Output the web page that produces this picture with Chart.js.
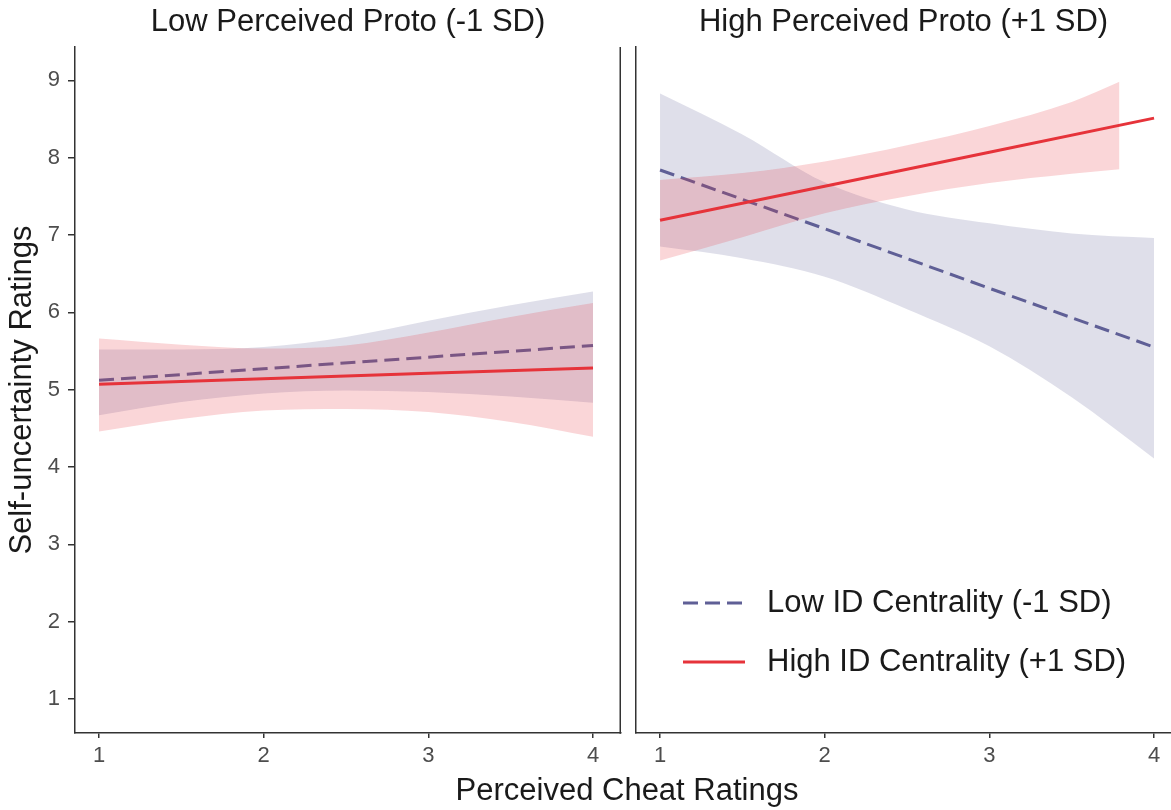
<!DOCTYPE html>
<html>
<head>
<meta charset="utf-8">
<title>Self-uncertainty by perceived cheat ratings</title>
<script src="https://cdn.jsdelivr.net/npm/chart.js@4.4.0/dist/chart.umd.min.js"></script>
<style>
  html, body { margin: 0; padding: 0; background: #fff; overflow: hidden; }
  #wrap { position: relative; width: 1171px; height: 810px; }
  canvas { position: absolute; top: 0; }
  #left { left: 0; }
  #right { left: 622px; }
  #xlabel {
    position: absolute; left: 627px; top: 771px; transform: translateX(-50%);
    white-space: nowrap; font: 31px "Liberation Sans", Arial, sans-serif;
    line-height: 37px; color: #1a1a1a;
  }
</style>
</head>
<body>
<div id="wrap">
  <canvas id="left" width="622" height="810"></canvas>
  <canvas id="right" width="549" height="810"></canvas>
  <div id="xlabel">Perceived Cheat Ratings</div>
</div>
<script>
// facet titles, series names, ticks
const panelTitles = ['Low Perceived Proto (-1 SD)', 'High Perceived Proto (+1 SD)'];
const seriesNames = ['Low ID Centrality (-1 SD)', 'High ID Centrality (+1 SD)'];
const xTicks = [1, 2, 3, 4];
const yTicks = [1, 2, 3, 4, 5, 6, 7, 8, 9];

// x positions of the fitted lines and the confidence bands
const lineX = [1, 2, 3, 4];
const bandX = [1, 1.5, 2, 2.5, 3, 3.5, 4];
const bandXHighHigh = [1, 1.5, 2, 2.5, 3, 3.5, 3.79];

// Low perceived proto panel
const lowProtoLowLine = [5.12, 5.27, 5.42, 5.57];
const lowProtoLowUpper = [5.52, 5.52, 5.55, 5.68, 5.89, 6.09, 6.27];
const lowProtoLowLower = [4.67, 4.84, 4.95, 4.99, 4.97, 4.91, 4.83];
const lowProtoHighLine = [5.07, 5.14, 5.21, 5.28];
const lowProtoHighUpper = [5.66, 5.58, 5.53, 5.57, 5.74, 5.94, 6.12];
const lowProtoHighLower = [4.46, 4.62, 4.73, 4.75, 4.71, 4.58, 4.39];

// High perceived proto panel
const highProtoLowLine = [7.84, 7.08, 6.31, 5.55];
const highProtoLowUpper = [8.83, 8.30, 7.68, 7.33, 7.15, 7.02, 6.96];
const highProtoLowLower = [6.85, 6.70, 6.46, 6.04, 5.56, 4.90, 4.11];
const highProtoHighLine = [7.19, 7.63, 8.07, 8.51];
const highProtoHighUpper = [7.71, 7.80, 7.95, 8.16, 8.41, 8.72, 8.98];
const highProtoHighLower = [6.67, 6.97, 7.28, 7.50, 7.67, 7.79, 7.85];

const FONT = '"Liberation Sans", Arial, sans-serif';
const PURPLE = '#5f5f96';
const PURPLE_FILL = 'rgba(95, 95, 150, 0.2)';
const RED = '#e6333a';
const RED_FILL = 'rgba(230, 51, 58, 0.2)';
const DASH = [15, 7];
const AXIS = '#333333';
const TICK = '#4d4d4d';
const TEXT = '#1a1a1a';

const pts = (xs, ys) => xs.map((x, i) => ({ x: x, y: ys[i] }));

function panelDatasets(p) {
  const band = { borderWidth: 0, pointRadius: 0, cubicInterpolationMode: 'monotone' };
  return [
    { data: pts(lineX, p.highLine), borderColor: RED, borderWidth: 3, pointRadius: 0, order: 0 },
    Object.assign({ data: pts(p.highBandX, p.highUpper), backgroundColor: RED_FILL, fill: '+1', order: 1 }, band),
    Object.assign({ data: pts(p.highBandX, p.highLower), fill: false, order: 1 }, band),
    { data: pts(lineX, p.lowLine), borderColor: PURPLE, borderWidth: 3, borderDash: DASH, pointRadius: 0, order: 2 },
    Object.assign({ data: pts(bandX, p.lowUpper), backgroundColor: PURPLE_FILL, fill: '+1', order: 3 }, band),
    Object.assign({ data: pts(bandX, p.lowLower), fill: false, order: 3 }, band)
  ];
}

// closes the box on the right side of the left facet
const rightFrame = {
  id: 'rightFrame',
  afterDraw(chart, args, opts) {
    if (!opts.show) return;
    const { ctx, chartArea } = chart;
    ctx.save();
    ctx.strokeStyle = AXIS;
    ctx.lineWidth = 1.5;
    ctx.beginPath();
    ctx.moveTo(chartArea.right - 0.75, chartArea.top);
    ctx.lineTo(chartArea.right - 0.75, chartArea.bottom + 0.75);
    ctx.stroke();
    ctx.restore();
  }
};

// legend drawn inside the plot area, bottom right
const insideLegend = {
  id: 'insideLegend',
  afterDatasetsDraw(chart, args, opts) {
    if (!opts.show) return;
    const { ctx, chartArea } = chart;
    const entries = [
      { name: seriesNames[0], color: PURPLE, dash: DASH },
      { name: seriesNames[1], color: RED, dash: [] }
    ];
    ctx.save();
    entries.forEach((e, i) => {
      const y = chartArea.bottom - opts.rows[i];
      const x0 = chartArea.left + opts.sampleLeft;
      ctx.strokeStyle = e.color;
      ctx.lineWidth = 3;
      ctx.setLineDash(e.dash);
      ctx.beginPath();
      ctx.moveTo(x0, y);
      ctx.lineTo(x0 + opts.sampleLength, y);
      ctx.stroke();
      ctx.setLineDash([]);
      ctx.fillStyle = TEXT;
      ctx.font = '31px ' + FONT;
      ctx.textBaseline = 'middle';
      ctx.textAlign = 'left';
      ctx.fillText(e.name, chartArea.left + opts.textLeft, y);
    });
    ctx.restore();
  }
};

function xScale(max) {
  return {
    type: 'linear', min: 0.854, max: max,
    afterBuildTicks: s => { s.ticks = xTicks.map(v => ({ value: v })); },
    afterFit: s => { s.height = 77; },
    grid: { drawOnChartArea: false, drawTicks: true, tickLength: 5, color: AXIS, lineWidth: 1.5 },
    border: { display: true, color: AXIS, width: 1.5 },
    ticks: { padding: 5, color: TICK, font: { size: 22, family: FONT }, maxRotation: 0 }
  };
}

function yScale(withLabels) {
  return {
    type: 'linear', min: 0.56, max: 9.43,
    afterBuildTicks: s => { s.ticks = yTicks.map(v => ({ value: v })); },
    afterFit: s => { s.width = withLabels ? 75 : 14; },
    grid: { drawOnChartArea: false, drawTicks: withLabels, tickLength: 7, color: AXIS, lineWidth: 1.5 },
    border: { display: true, color: AXIS, width: 1.5 },
    ticks: { display: withLabels, padding: 8, color: TICK, font: { size: 22, family: FONT } },
    title: {
      display: withLabels, text: 'Self-uncertainty Ratings', color: TEXT,
      font: { size: 31, family: FONT }, padding: { top: 4, bottom: 0 }
    }
  };
}

function makePanel(id, title, p, isLeft) {
  return new Chart(document.getElementById(id), {
    type: 'line',
    data: { datasets: panelDatasets(p) },
    options: {
      responsive: false,
      animation: false,
      events: [],
      layout: { padding: { top: 0, right: isLeft ? 1 : 0, bottom: 0, left: 0 } },
      scales: { x: xScale(isLeft ? 4.17 : 4.103), y: yScale(isLeft) },
      plugins: {
        legend: { display: false },
        tooltip: { enabled: false },
        title: {
          display: true, text: title, fullSize: false, color: TEXT,
          font: { size: 31, weight: 'normal', family: FONT },
          padding: { top: 4, bottom: 5.8 }
        },
        rightFrame: { show: isLeft },
        insideLegend: { show: !isLeft, rows: [130, 71], sampleLeft: 47, sampleLength: 62, textLeft: 131 }
      }
    },
    plugins: [rightFrame, insideLegend]
  });
}

makePanel('left', panelTitles[0], {
  lowLine: lowProtoLowLine, lowUpper: lowProtoLowUpper, lowLower: lowProtoLowLower,
  highLine: lowProtoHighLine, highUpper: lowProtoHighUpper, highLower: lowProtoHighLower,
  highBandX: bandX
}, true);

makePanel('right', panelTitles[1], {
  lowLine: highProtoLowLine, lowUpper: highProtoLowUpper, lowLower: highProtoLowLower,
  highLine: highProtoHighLine, highUpper: highProtoHighUpper, highLower: highProtoHighLower,
  highBandX: bandXHighHigh
}, false);
</script>
</body>
</html>
